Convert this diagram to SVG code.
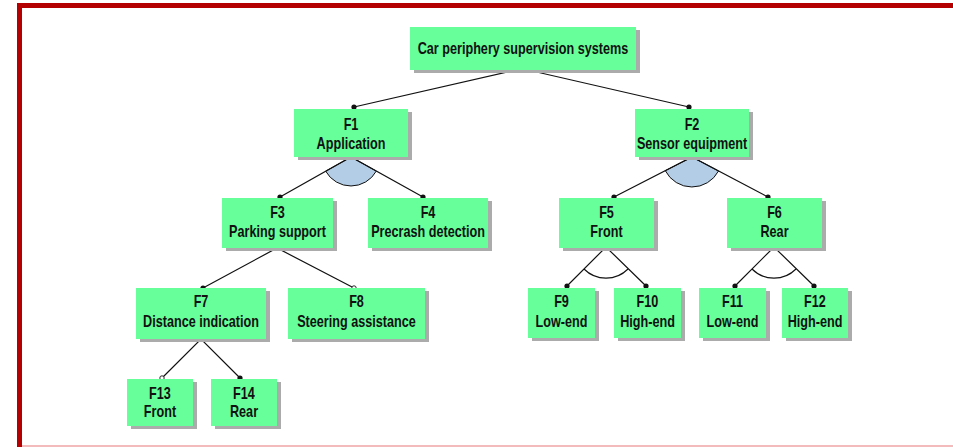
<svg xmlns="http://www.w3.org/2000/svg" width="953" height="447" viewBox="0 0 953 447">
  <style>
    .box { fill: #66ff99; }
    .shadow { fill: #ababab; }
    .lbl { font-family: "Liberation Sans", Arial, sans-serif; font-weight: bold; font-size: 16px; fill: #111; text-anchor: middle; }
    .edge { fill: none; stroke: #111; stroke-width: 1.2; }
    .dot { fill: #111; }
    .opt { fill: #fff; stroke: #111; stroke-width: 0.9; }
    .andarc { fill: #b3cde6; stroke: #111; stroke-width: 1; }
    .altarc { fill: none; stroke: #111; stroke-width: 1.1; }
  </style>

  <!-- frame -->
  <g id="frame">
    <rect x="17" y="3" width="936" height="5" fill="#b40000"/>
    <rect x="17" y="3" width="5" height="444" fill="#b40000"/>
    <line x1="22" y1="446" x2="953" y2="446" stroke="#e87878" stroke-width="1.2"/>
  </g>

  <!-- connectors -->
  <g id="connectors">
    <path class="edge" d="M354,107 L516,70 L528,70 L689,107"/>
    <path class="andarc" d="M351,157 L325.7,171.2 A29,29 0 0 0 376.3,171.1 Z"/>
    <path class="edge" d="M280,197 L351,157 L423,197"/>
    <path class="andarc" d="M692,157 L665.3,170.7 A30,30 0 0 0 718.5,171 Z"/>
    <path class="edge" d="M614,197 L692,157 L768,197"/>
    <path class="edge" d="M203,288 L277,248 L354,288"/>
    <path class="edge" d="M162,378 L201,339 L240,378"/>
    <path class="edge" d="M567,286 L606,247 L646,286"/>
    <path class="altarc" d="M584,269 A31,31 0 0 0 628,269"/>
    <path class="edge" d="M735,286 L774,247 L814,286"/>
    <path class="altarc" d="M752,269 A31,31 0 0 0 796,269"/>
    <circle class="dot" cx="354" cy="107" r="2.6"/>
    <circle class="dot" cx="689" cy="107" r="2.6"/>
    <circle class="dot" cx="280" cy="197" r="2.6"/>
    <circle class="dot" cx="423" cy="197" r="2.6"/>
    <circle class="dot" cx="614" cy="197" r="2.6"/>
    <circle class="dot" cx="768" cy="197" r="2.6"/>
    <circle class="dot" cx="203" cy="288" r="2.6"/>
    <circle class="opt" cx="354" cy="288" r="2.2"/>
    <circle class="opt" cx="162" cy="378" r="2.2"/>
    <circle class="dot" cx="240" cy="378" r="2.6"/>
    <circle class="dot" cx="567" cy="286" r="2.6"/>
    <circle class="dot" cx="646" cy="286" r="2.6"/>
    <circle class="dot" cx="735" cy="286" r="2.6"/>
    <circle class="dot" cx="814" cy="286" r="2.6"/>
  </g>

  <!-- feature nodes -->
  <g id="root">
    <rect class="shadow" x="414" y="30" width="226" height="43"/>
    <rect class="box" x="410" y="27" width="226" height="43"/>
    <text class="lbl" transform="translate(523 0) scale(0.79 1)" x="0" y="54">Car periphery supervision systems</text>
  </g>
  <g id="f1">
    <rect class="shadow" x="298" y="112" width="114" height="48"/>
    <rect class="box" x="294" y="109" width="114" height="48"/>
    <text class="lbl" transform="translate(351 0) scale(0.79 1)"><tspan x="0" y="130">F1</tspan><tspan x="0" y="149">Application</tspan></text>
  </g>
  <g id="f2">
    <rect class="shadow" x="639" y="112" width="114" height="48"/>
    <rect class="box" x="635" y="109" width="114" height="48"/>
    <text class="lbl" transform="translate(692 0) scale(0.79 1)"><tspan x="0" y="130">F2</tspan><tspan x="0" y="149">Sensor equipment</tspan></text>
  </g>
  <g id="f3">
    <rect class="shadow" x="226" y="201" width="111" height="50"/>
    <rect class="box" x="222" y="198" width="111" height="50"/>
    <text class="lbl" transform="translate(277.5 0) scale(0.79 1)"><tspan x="0" y="218">F3</tspan><tspan x="0" y="237">Parking support</tspan></text>
  </g>
  <g id="f4">
    <rect class="shadow" x="372" y="201" width="120" height="50"/>
    <rect class="box" x="368" y="198" width="120" height="50"/>
    <text class="lbl" transform="translate(428 0) scale(0.79 1)"><tspan x="0" y="218">F4</tspan><tspan x="0" y="237">Precrash detection</tspan></text>
  </g>
  <g id="f5">
    <rect class="shadow" x="563" y="201" width="95" height="50"/>
    <rect class="box" x="559" y="198" width="95" height="50"/>
    <text class="lbl" transform="translate(606.5 0) scale(0.79 1)"><tspan x="0" y="218">F5</tspan><tspan x="0" y="237">Front</tspan></text>
  </g>
  <g id="f6">
    <rect class="shadow" x="731" y="201" width="95" height="50"/>
    <rect class="box" x="727" y="198" width="95" height="50"/>
    <text class="lbl" transform="translate(774.5 0) scale(0.79 1)"><tspan x="0" y="218">F6</tspan><tspan x="0" y="237">Rear</tspan></text>
  </g>
  <g id="f7">
    <rect class="shadow" x="140" y="291" width="130" height="51"/>
    <rect class="box" x="136" y="288" width="130" height="51"/>
    <text class="lbl" transform="translate(201 0) scale(0.79 1)"><tspan x="0" y="307">F7</tspan><tspan x="0" y="327">Distance indication</tspan></text>
  </g>
  <g id="f8">
    <rect class="shadow" x="292" y="291" width="137" height="51"/>
    <rect class="box" x="288" y="288" width="137" height="51"/>
    <text class="lbl" transform="translate(356.5 0) scale(0.79 1)"><tspan x="0" y="307">F8</tspan><tspan x="0" y="327">Steering assistance</tspan></text>
  </g>
  <g id="f9">
    <rect class="shadow" x="532" y="291" width="67" height="50"/>
    <rect class="box" x="528" y="288" width="67" height="50"/>
    <text class="lbl" transform="translate(561.5 0) scale(0.79 1)"><tspan x="0" y="307">F9</tspan><tspan x="0" y="327">Low-end</tspan></text>
  </g>
  <g id="f10">
    <rect class="shadow" x="618" y="291" width="67" height="50"/>
    <rect class="box" x="614" y="288" width="67" height="50"/>
    <text class="lbl" transform="translate(647.5 0) scale(0.79 1)"><tspan x="0" y="307">F10</tspan><tspan x="0" y="327">High-end</tspan></text>
  </g>
  <g id="f11">
    <rect class="shadow" x="703" y="291" width="67" height="50"/>
    <rect class="box" x="699" y="288" width="67" height="50"/>
    <text class="lbl" transform="translate(732.5 0) scale(0.79 1)"><tspan x="0" y="307">F11</tspan><tspan x="0" y="327">Low-end</tspan></text>
  </g>
  <g id="f12">
    <rect class="shadow" x="786" y="291" width="66" height="50"/>
    <rect class="box" x="782" y="288" width="66" height="50"/>
    <text class="lbl" transform="translate(815 0) scale(0.79 1)"><tspan x="0" y="307">F12</tspan><tspan x="0" y="327">High-end</tspan></text>
  </g>
  <g id="f13">
    <rect class="shadow" x="131" y="382" width="66" height="47"/>
    <rect class="box" x="127" y="379" width="66" height="47"/>
    <text class="lbl" transform="translate(160 0) scale(0.79 1)"><tspan x="0" y="399">F13</tspan><tspan x="0" y="417">Front</tspan></text>
  </g>
  <g id="f14">
    <rect class="shadow" x="215" y="382" width="66" height="47"/>
    <rect class="box" x="211" y="379" width="66" height="47"/>
    <text class="lbl" transform="translate(244 0) scale(0.79 1)"><tspan x="0" y="399">F14</tspan><tspan x="0" y="417">Rear</tspan></text>
  </g>
</svg>
